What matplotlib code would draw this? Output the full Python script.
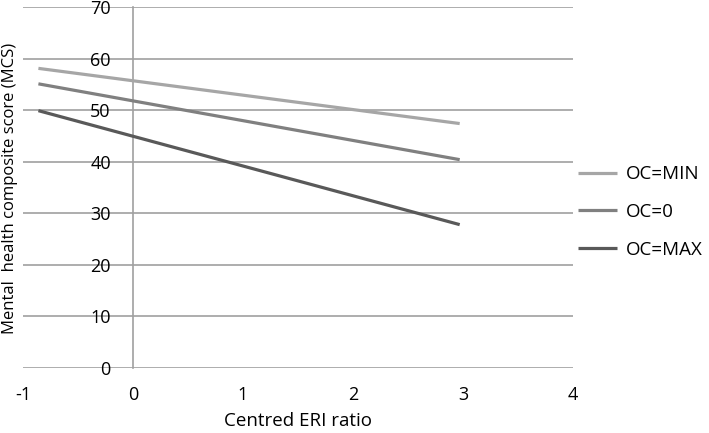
import matplotlib.pyplot as plt

plt.rcParams['font.family'] = ['Open Sans', 'DejaVu Sans']
plt.rcParams['axes.unicode_minus'] = False

# values
eri = [-0.86, 2.97]
oc_min = [58.1, 47.4]
oc_zero = [55.1, 40.4]
oc_max = [49.9, 27.8]
series_labels = ['OC=MIN', 'OC=0', 'OC=MAX']
series_colors = ['#a6a6a6', '#808080', '#595959']

x_ticks = [-1, 0, 1, 2, 3, 4]
y_ticks = [0, 10, 20, 30, 40, 50, 60, 70]

fig = plt.figure(figsize=(7.09, 4.33), dpi=100)
W, H = 709, 433
ax = fig.add_axes([23 / W, 1 - 368 / H, 550 / W, 361 / H])

for ys, lab, col in zip([oc_min, oc_zero, oc_max], series_labels, series_colors):
    ax.plot(eri, ys, color=col, lw=2.3, label=lab, solid_capstyle='butt')

ax.set_xlim(-1, 4)
ax.set_ylim(0, 70)
ax.set_xticks(x_ticks)
ax.set_yticks(y_ticks)

for s in ['top', 'right', 'bottom']:
    ax.spines[s].set_visible(False)
ax.spines['left'].set_position(('data', 0))
ax.spines['left'].set_color('#a0a0a0')
ax.spines['left'].set_linewidth(1.2)
ax.spines['left'].set_zorder(0)

ax.yaxis.grid(True, color='#a0a0a0', lw=1.2)
ax.set_axisbelow(True)
ax.tick_params(axis='y', length=0, pad=16, labelsize=13)
ax.tick_params(axis='x', length=0, pad=13, labelsize=13)

ax.set_xlabel('Centred ERI ratio', fontsize=13.5, labelpad=6)
fig.text(10 / W, 1 - 188 / H, 'Mental  health composite score (MCS)',
         rotation=90, ha='center', va='center', fontsize=12)

fig.legend(loc='center left', bbox_to_anchor=(578 / W, 1 - 212 / H),
           frameon=False, fontsize=13.5, handlelength=2.1,
           handletextpad=0.43, labelspacing=1.05,
           borderpad=0, borderaxespad=0)

fig.savefig('out.png', dpi=100)
